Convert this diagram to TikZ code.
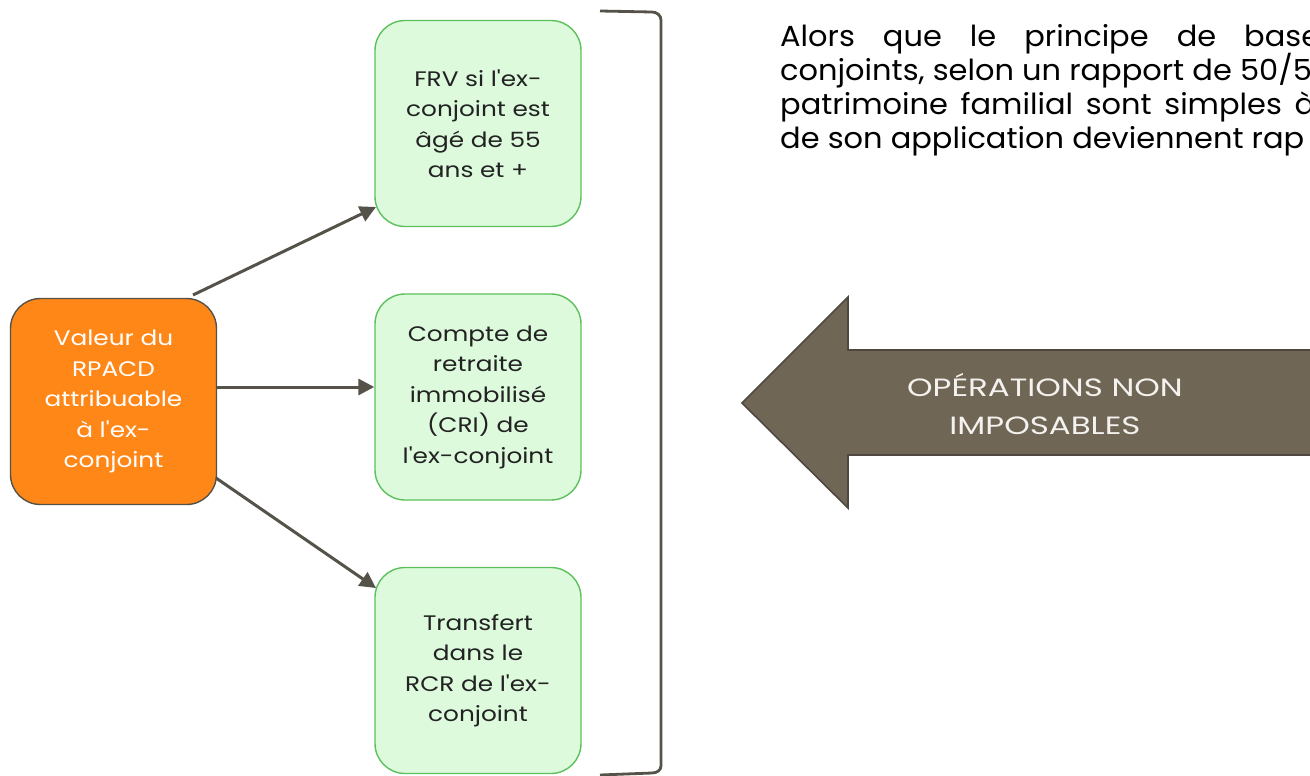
\documentclass[tikz,border=0pt]{standalone}
\usepackage{fontspec}
\setmainfont{Poppins}
\newfontfamily\boxfont{Poppins}[FakeStretch=1.18]
\newfontfamily\parafont{Poppins}[FakeStretch=1.05]
\newfontfamily\labelfont{Poppins}[FakeStretch=1.3]
\usetikzlibrary{arrows.meta}
\definecolor{orangefill}{HTML}{FF8717}
\definecolor{darkline}{HTML}{55524A}
\definecolor{greenfill}{HTML}{DDFADD}
\definecolor{greenline}{HTML}{5CC05C}
\definecolor{arrowfill}{HTML}{706656}
\definecolor{arrowline}{HTML}{4E4840}
\definecolor{textdark}{HTML}{222222}
\definecolor{labeltext}{HTML}{F4F2EE}
\tikzset{
  box/.style={rounded corners=30pt, minimum width=206pt, minimum height=206pt, align=center, line width=1.4pt, font=\boxfont\fontsize{21}{30.5}\selectfont, inner sep=0pt},
  greenbox/.style={box, draw=greenline, fill=greenfill, text=textdark},
  orangebox/.style={box, draw=darkline, fill=orangefill, text=white},
  conn/.style={draw=darkline, line width=3pt, -{Triangle[length=16pt,width=16pt]}},
  para/.style={anchor=base west, inner sep=0pt},
}
\begin{document}
\begin{tikzpicture}[x=1pt,y=-1pt]
\useasboundingbox (0,0) rectangle (1310,776);
\clip (0,0) rectangle (1310,776);
% nodes
\node[orangebox] (src) at (113.5,401.5) {Valeur du\\RPACD\\attribuable\\à l'ex-\\conjoint};
\node[greenbox] (frv) at (478,123.5) {FRV si l'ex-\\conjoint est\\âgé de 55\\ans et +};
\node[greenbox] (cri) at (478,397) {Compte de\\retraite\\immobilisé\\(CRI) de\\l'ex-conjoint};
\node[greenbox] (rcr) at (478,670.5) {Transfert\\dans le\\RCR de l'ex-\\conjoint};
% connectors
\coordinate (s1) at (193,295);
\coordinate (e1) at (376,207);
\draw[conn] (s1) -- (e1);
\draw[conn] (src.east |- 0,387) -- (cri.west |- 0,387);
\coordinate (s3) at (216,478);
\coordinate (e3) at (376,588);
\draw[conn] (s3) -- (e3);
% bracket
\draw[darkline, line width=2.8pt] (600,11) -- (652,12) to[out=0,in=90] (661,20) -- (661,766) to[out=-90,in=0] (652,773) -- (600,775);
% big arrow
\draw[arrowline, fill=arrowfill, line width=1.6pt] (1320,350) -- (848,350) -- (848,297) -- (742,403) -- (848,508) -- (848,455) -- (1320,455) -- cycle;
\node[text=labeltext, align=center, font=\labelfont\fontsize{25}{38}\selectfont] (lbl) at (1045,404) {OPÉRATIONS NON\\IMPOSABLES};
% paragraph
\begin{scope}[font=\parafont\fontsize{29}{34}\selectfont, text=black]
\node[para] (p1) at (780,47) {\hbox to 540pt{Alors\hfill que\hfill le\hfill principe\hfill de\hfill base}};
\node[para] (p2) at (780,81) {conjoints, selon un rapport de 50/5};
\node[para] (p3) at (780,114) {\hbox to 535pt{patrimoine\hfill familial\hfill sont\hfill simples\hfill à}};
\node[para] (p4) at (780,148) {de son application deviennent rap};
\end{scope}
\end{tikzpicture}
\end{document}
